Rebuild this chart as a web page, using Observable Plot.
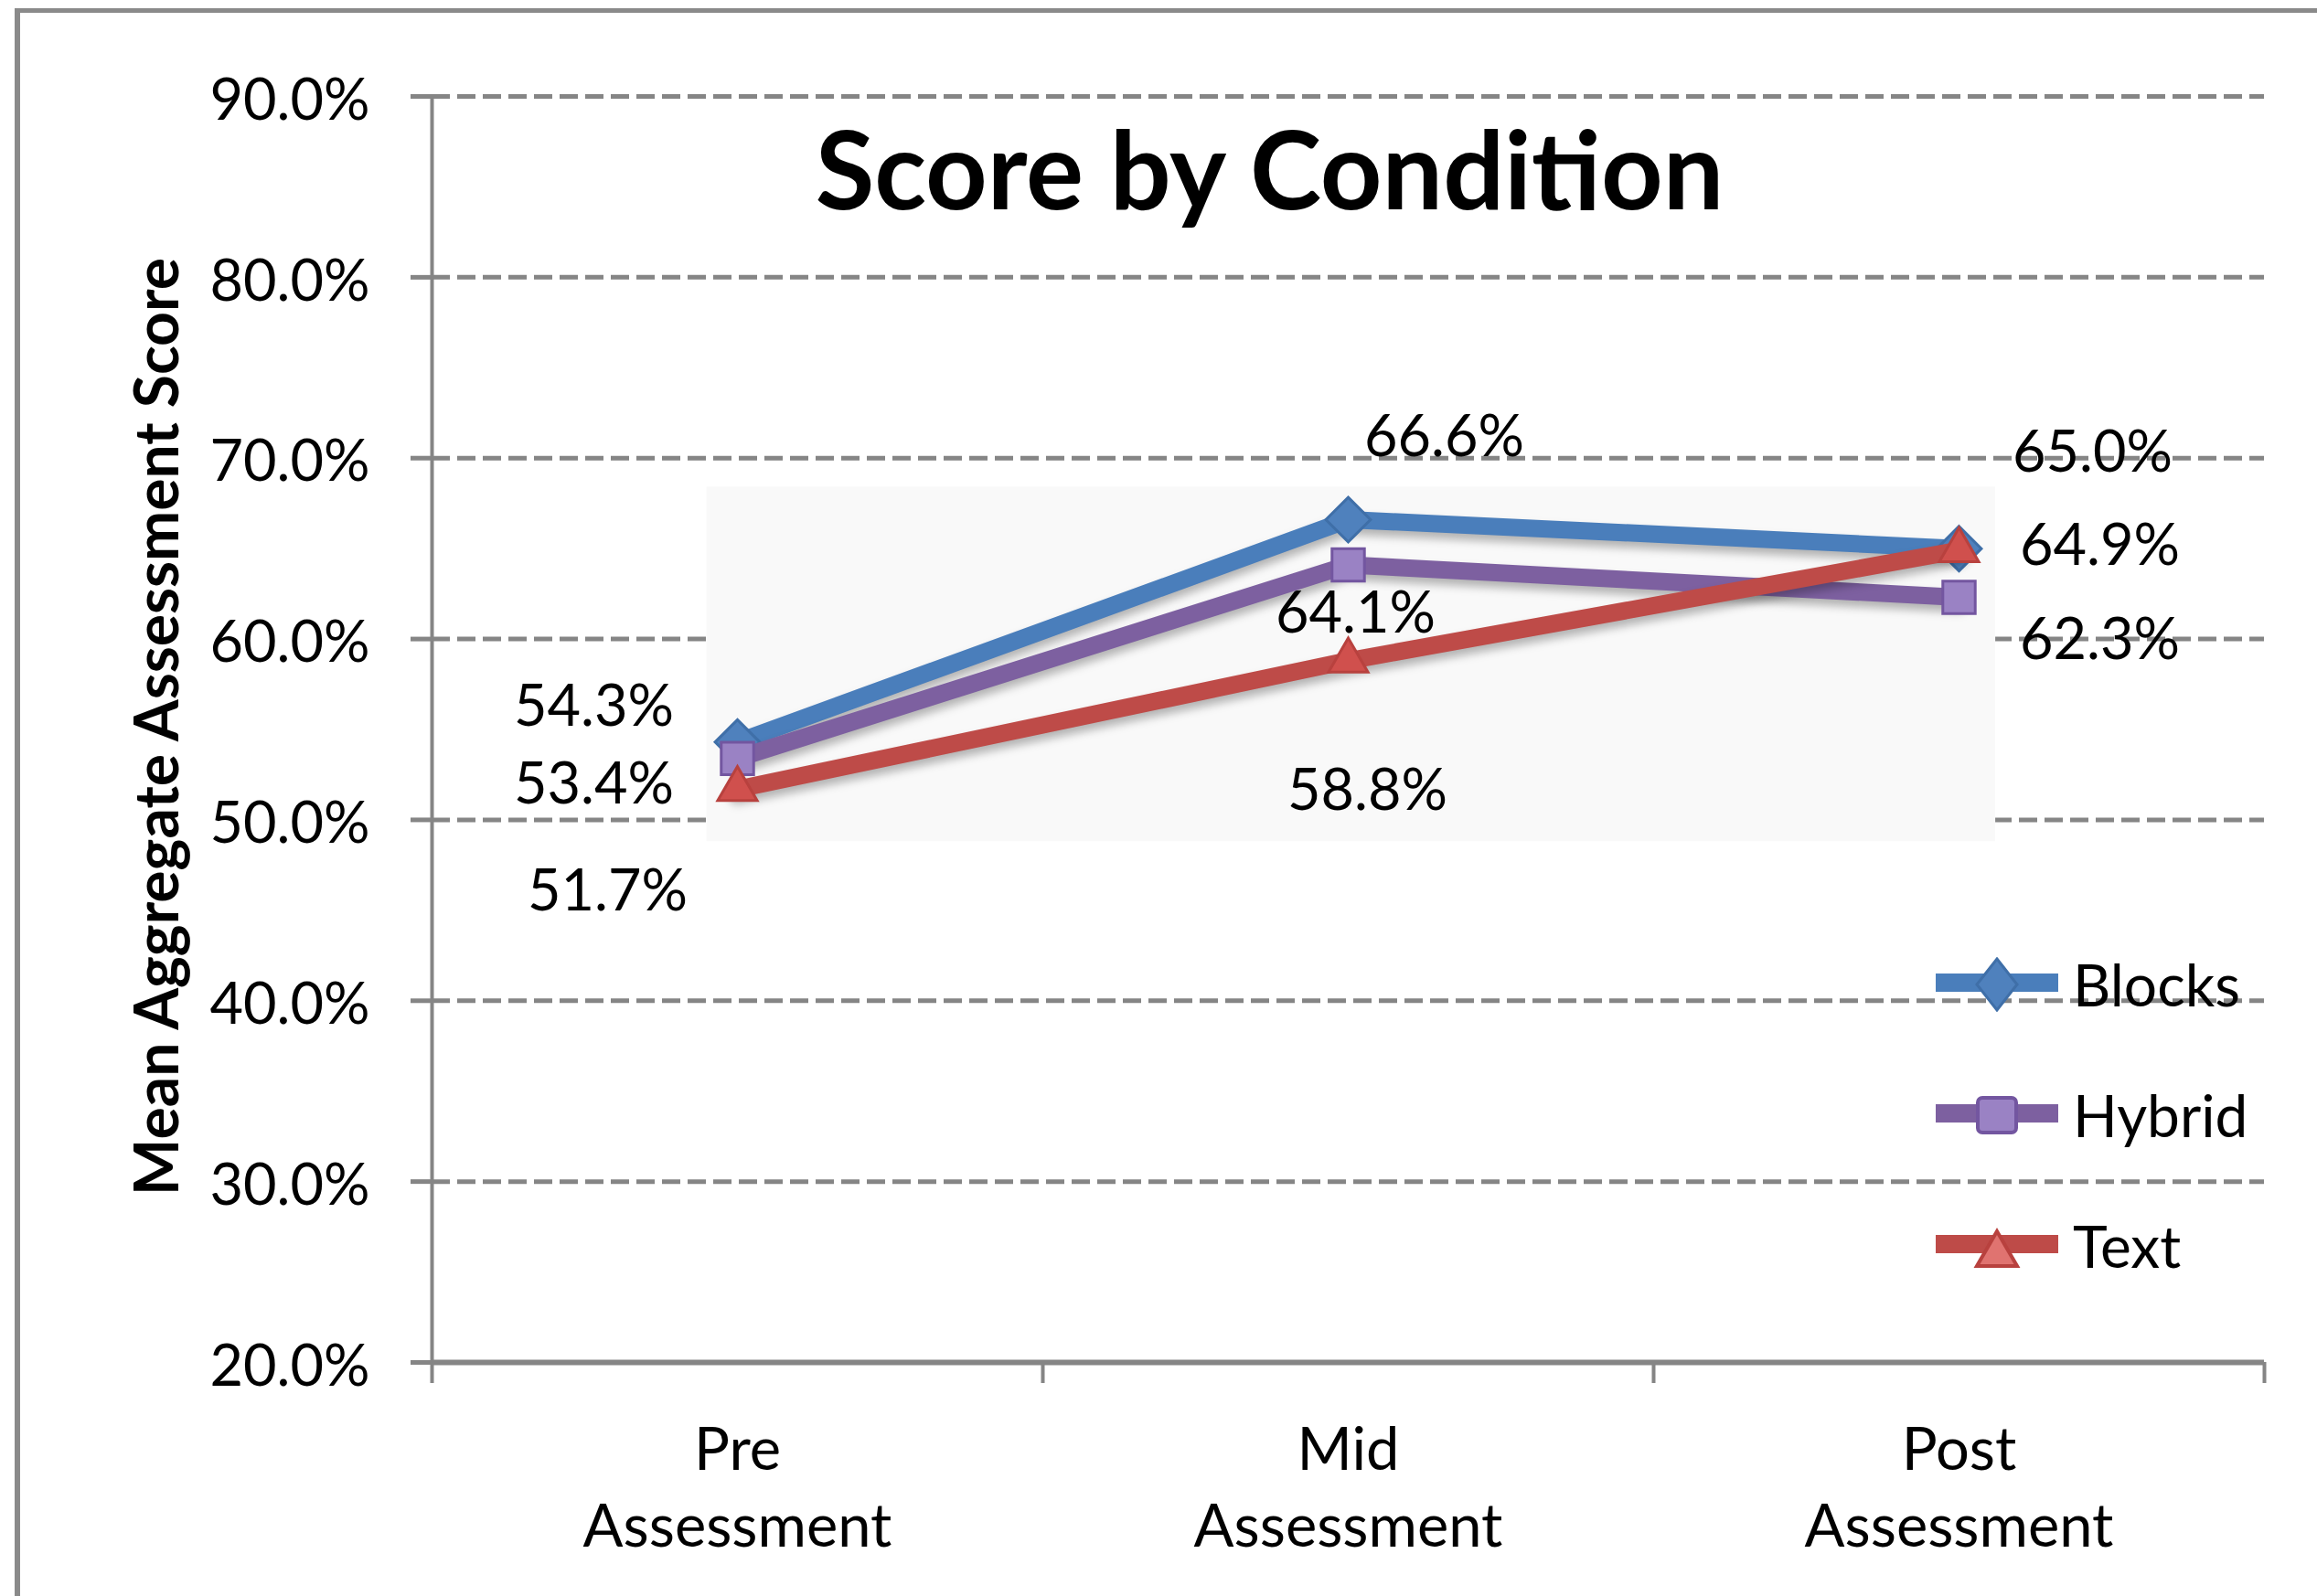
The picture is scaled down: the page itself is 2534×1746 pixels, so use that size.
<!DOCTYPE html>
<html><head><meta charset="utf-8">
<script src="https://cdn.jsdelivr.net/npm/d3@7"></script>
<script src="https://cdn.jsdelivr.net/npm/@observablehq/plot@0.6"></script>
<style>
html,body{margin:0;padding:0;background:#fff;}
#wrap{position:relative;width:2534px;height:1746px;overflow:hidden;font-family:Lato,"Open Sans",sans-serif;}
#wrap > svg{position:absolute;left:0;top:0;}
#border{position:absolute;left:16px;top:9px;width:3000px;height:3000px;border-left:6px solid #8a8a8a;border-top:5px solid #8a8a8a;box-sizing:border-box;}
.lg-row{position:absolute;height:80px;}
.lg-row svg{position:absolute;left:0;top:10px;}
.lg-row span{position:absolute;left:155px;top:0;line-height:80px;font-size:64px;color:#000;white-space:nowrap;}
</style></head><body><div id="wrap"><div id="border"></div></div>
<script>
// ---- data ----
const categories = ["Pre\nAssessment", "Mid\nAssessment", "Post\nAssessment"];
const seriesNames = ["Blocks", "Hybrid", "Text"];
const blocksValues = [54.3, 66.6, 65.0];
const hybridValues = [53.4, 64.1, 62.3];
const textValues = [51.7, 58.8, 64.9];
const yTicks = [20, 30, 40, 50, 60, 70, 80, 90];
const titleText = "Score by Condition";
const yLabel = "Mean Aggregate Assessment Score";

// ---- styling ----
const FONT = 'Lato, "Open Sans", sans-serif';
const GRID = "#858585";
const styles = {
  Blocks: {line: "#4A7EBB", fill: "#4F81BD", stroke: "#3f6fa8", symbol: "diamond2", r: 22},
  Hybrid: {line: "#7D60A0", fill: "#9a82c4", stroke: "#7356a0", symbol: "square", r: 20},
  Text:   {line: "#BE4B48", fill: "#d0504d", stroke: "#b8413e", symbol: "triangle", r: 16}
};
// pixel offsets of the value labels from their points
const labelOffsets = {
  Blocks: [[-157, -38], [105, -90], [146, -104]],
  Hybrid: [[-157, 29], [8, 54], [154, 47]],
  Text:   [[-142, 113], [21, 143], [154, -4]]
};

const valuesBySeries = [blocksValues, hybridValues, textValues];
const rows = seriesNames.flatMap((s, si) =>
  valuesBySeries[si].map((v, i) => ({series: s, i, x: i + 0.5, y: v})));
const allVals = rows.map(d => d.y);
const xEdges = d3.range(categories.length + 1);

const marks = [
  Plot.gridY(yTicks.filter(t => t > 20), {stroke: GRID, strokeOpacity: 1, strokeWidth: 5, strokeDasharray: "20,8"}),
  Plot.rect([{}], {x1: 0.5 - 0.05, x2: categories.length - 0.5 + 0.06,
    y1: d3.min(allVals) - 2.9, y2: d3.max(allVals) + 1.8, fill: "#f9f9f9"}),
  Plot.axisY(yTicks, {tickSize: 23, tickFormat: () => "", label: null, stroke: GRID, strokeWidth: 5}),
  Plot.ruleX([0], {y1: 20, y2: 90, stroke: GRID, strokeWidth: 4}),
  Plot.axisX(xEdges, {tickSize: 23, tickFormat: () => "", label: null, stroke: GRID, strokeWidth: 4}),
  Plot.ruleY([20], {stroke: GRID, strokeWidth: 6}),
  Plot.axisY(yTicks, {tickSize: 0, tickPadding: 68, tickFormat: d => d.toFixed(1) + "%", label: null,
    fontSize: 63, fill: "#000", dy: 5}),
  Plot.text(categories, {x: (d, i) => i + 0.5, frameAnchor: "bottom", lineAnchor: "top",
    dy: 57, lineHeight: 1.3, fontSize: 65, fill: "#000"})
];

for (const s of seriesNames) {
  const st = styles[s];
  const data = rows.filter(d => d.series === s);
  marks.push(Plot.line(data, {x: "x", y: "y", stroke: st.line, strokeWidth: 19, strokeLinejoin: "round"}));
  marks.push(Plot.dot(data, {x: "x", y: "y", symbol: st.symbol, r: st.r, fill: st.fill, stroke: st.stroke, strokeWidth: 3}));
}
for (const d of rows) {
  const [dx, dy] = labelOffsets[d.series][d.i];
  marks.push(Plot.text([d], {x: "x", y: "y", text: r => r.y.toFixed(1) + "%", dx, dy,
    fontSize: 63, fill: "#000", lineAnchor: "middle"}));
}
marks.push(Plot.text([titleText], {frameAnchor: "top", dx: -86, dy: 86, fontSize: 118,
  fontWeight: "bold", fill: "#000", lineAnchor: "middle", textAnchor: "middle"}));
marks.push(Plot.text([yLabel], {frameAnchor: "left", dx: -299, dy: -3, rotate: -90,
  fontSize: 66, fontWeight: "bold", fill: "#000", lineAnchor: "middle", textAnchor: "middle"}));

const plot = Plot.plot({
  width: 2534, height: 1746,
  marginLeft: 472, marginRight: 58, marginTop: 105, marginBottom: 256,
  style: {background: "transparent", fontFamily: FONT, overflow: "visible"},
  x: {type: "linear", domain: [0, categories.length], axis: null},
  y: {domain: [20, 90], axis: null},
  marks
});
const wrap = document.getElementById("wrap");
wrap.insertBefore(plot, wrap.firstChild);
d3.select(plot).selectAll('g[aria-label="line"]').style("filter", "drop-shadow(0px 7px 5px rgba(0,0,0,0.28))");

// ---- legend (inside plot area, as in the original) ----
const legendPos = {left: 2112, tops: [1077, 1220, 1363]};
seriesNames.forEach((s, k) => {
  const st = styles[s];
  const row = document.createElement("div");
  row.className = "lg-row";
  row.style.left = legendPos.left + "px";
  row.style.top = (legendPos.tops[k] - 40) + "px";
  let marker;
  if (s === "Blocks") marker = `<path d="M72,2 L94,30 L72,58 L50,30 Z" fill="${st.fill}" stroke="${st.stroke}" stroke-width="3"/>`;
  else if (s === "Hybrid") marker = `<rect x="51" y="11" width="42" height="38" rx="5" fill="${st.fill}" stroke="${st.stroke}" stroke-width="4"/>`;
  else marker = `<path d="M72,14 L94,52 L50,52 Z" fill="#e07370" stroke="${st.stroke}" stroke-width="4"/>`;
  row.innerHTML = `<svg width="145" height="60"><line x1="5" x2="139" y1="28" y2="28" stroke="${st.line}" stroke-width="20"/>${marker}</svg><span>${s}</span>`;
  wrap.appendChild(row);
});
</script></body></html>
